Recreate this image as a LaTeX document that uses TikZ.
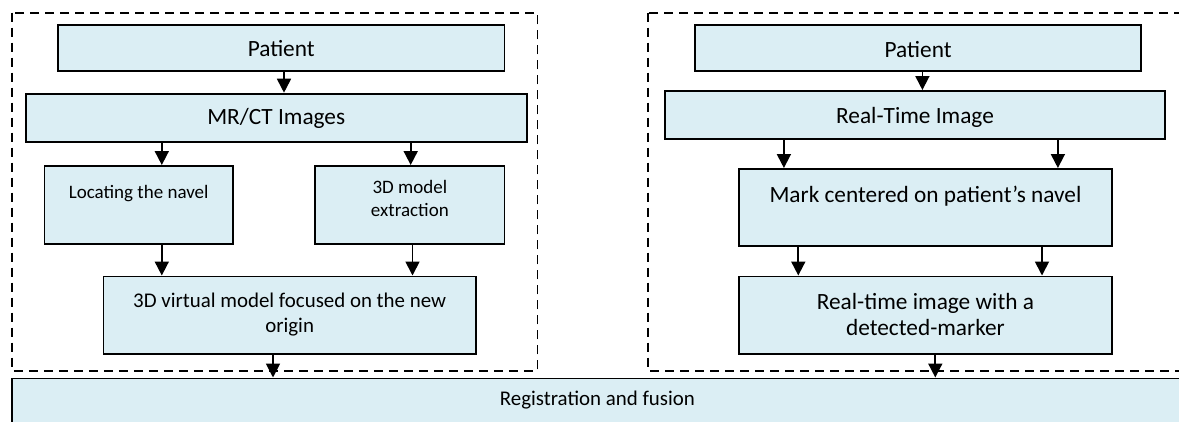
\documentclass[tikz,border=0pt]{standalone}
\usepackage{fontspec}
\setmainfont{Carlito}
\usetikzlibrary{arrows.meta}
\definecolor{boxfill}{RGB}{219,238,244}
\begin{document}
\begin{tikzpicture}[x=1pt,y=-1pt,
  box/.style={draw=black, line width=1.8pt, fill=boxfill, inner sep=0pt,
    anchor=north west, align=center},
  group/.style={draw=black, line width=1.7pt, dash pattern=on 9pt off 6pt},
  flow/.style={line width=1.8pt, -{Triangle[width=14pt,length=14pt]}},
  big/.style={font=\fontsize{23.3}{26}\selectfont},
  mid/.style={font=\fontsize{20.9}{25}\selectfont},
  small/.style={font=\fontsize{19}{23}\selectfont}]

\useasboundingbox (0,0) rectangle (1179,421);
\clip (0,0) rectangle (1179,421);

% dashed group frames
\draw[group] (11.8,12.7) rectangle (537.5,370.7);
\draw[group] (648,12.7) rectangle (1195,370.7);

% pre-operative branch
\node[box, big, minimum width=446.6pt, minimum height=46pt,
  text height=32pt, text depth=14pt] (lpat) at (57,24) {Patient};
\node[box, big, minimum width=500.7pt, minimum height=48pt,
  text height=31.3pt, text depth=16.7pt] (mrct) at (25,92.7) {MR/CT Images};
\node[box, small, minimum width=188.4pt, minimum height=77.7pt,
  text height=32.3pt, text depth=45.4pt] (loc) at (43.6,165) {Locating the navel};
\node[box, small, minimum width=189.3pt, minimum height=77.7pt,
  text height=51pt, text depth=26.7pt] (ext) at (314.3,165) {3D model\\extraction};
\node[box, mid, minimum width=372.5pt, minimum height=77.5pt,
  text height=56.5pt, text depth=21pt] (virt) at (102.5,275.5)
  {3D virtual model focused on the new\\origin};

% intra-operative branch
\node[box, big, minimum width=446pt, minimum height=46pt,
  text height=32.5pt, text depth=13.5pt] (rpat) at (694.2,24) {Patient};
\node[box, big, minimum width=500.4pt, minimum height=48.3pt,
  text height=32.7pt, text depth=15.6pt] (rti) at (663.9,90) {Real-Time Image};
\node[box, big, minimum width=373.7pt, minimum height=77pt,
  text height=33.7pt, text depth=43.3pt] (mark) at (737.7,168)
  {Mark centered on patient’s navel};
\node[box, big, minimum width=373.7pt, minimum height=77.5pt,
  text height=59.5pt, text depth=18pt] (marker) at (737.7,275.5)
  {Real-time image with a\\detected-marker};

% common stage
\node[box, mid, minimum width=1171pt, minimum height=46pt,
  text height=27.5pt, text depth=18.5pt] (reg) at (11,377.5) {Registration and fusion};

% arrow columns
\coordinate (a1) at (284,0);
\coordinate (a2) at (161.8,0);
\coordinate (a3) at (410.7,0);
\coordinate (a4) at (161.8,0);
\coordinate (a5) at (412.5,0);
\coordinate (a6) at (273,0);
\coordinate (b1) at (922.4,0);
\coordinate (b2) at (783.9,0);
\coordinate (b3) at (1057.9,0);
\coordinate (b4) at (798.3,0);
\coordinate (b5) at (1042,0);
\coordinate (b6) at (935.3,0);

\draw[flow] (lpat.south -| a1) -- (mrct.north -| a1);
\draw[flow] (mrct.south -| a2) -- (loc.north -| a2);
\draw[flow] (mrct.south -| a3) -- (ext.north -| a3);
\draw[flow] (loc.south -| a4) -- (virt.north -| a4);
\draw[flow] (ext.south -| a5) -- (virt.north -| a5);
\draw[flow] (virt.south -| a6) -- (reg.north -| a6);

\draw[flow] (rpat.south -| b1) -- (rti.north -| b1);
\draw[flow] (rti.south -| b2) -- (mark.north -| b2);
\draw[flow] (rti.south -| b3) -- (mark.north -| b3);
\draw[flow] (mark.south -| b4) -- (marker.north -| b4);
\draw[flow] (mark.south -| b5) -- (marker.north -| b5);
\draw[flow] (marker.south -| b6) -- (reg.north -| b6);
\end{tikzpicture}
\end{document}
